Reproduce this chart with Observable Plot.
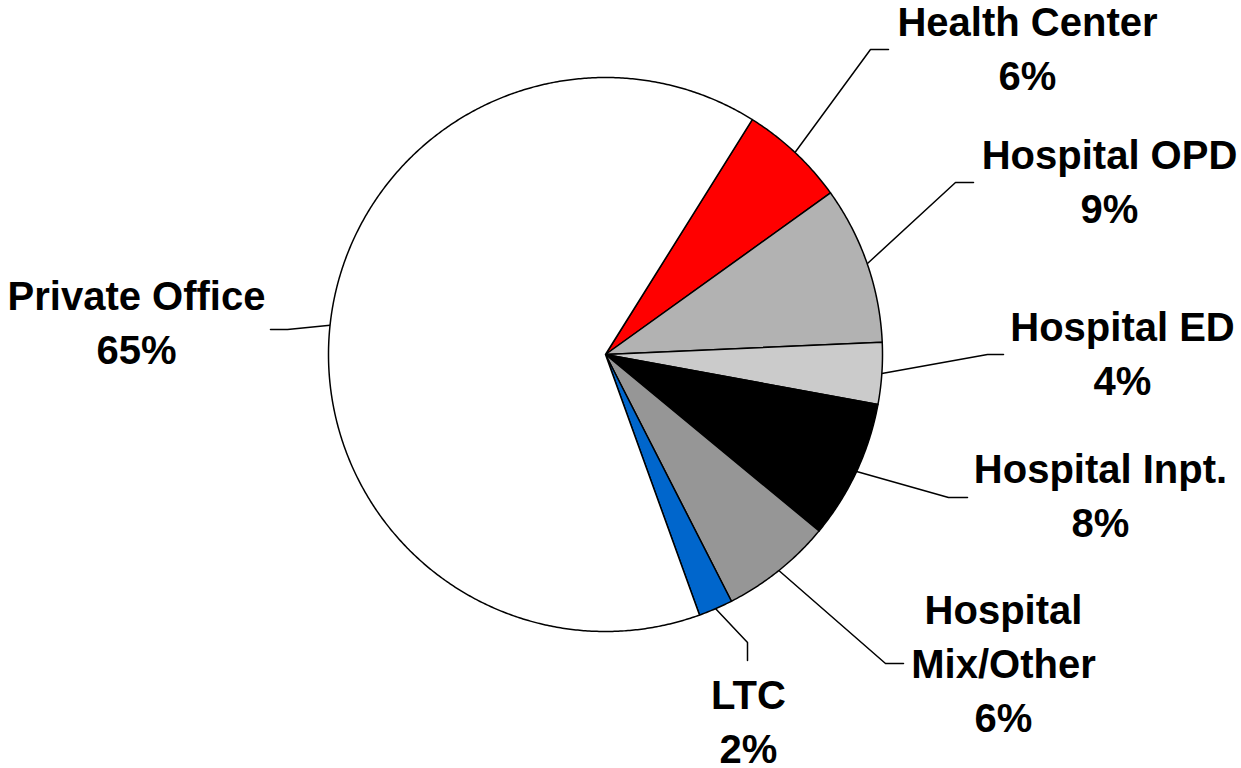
<!DOCTYPE html>
<html><head><meta charset="utf-8">
<script src="https://cdn.jsdelivr.net/npm/d3@7"></script>
<script src="https://cdn.jsdelivr.net/npm/@observablehq/plot@0.6"></script>
<style>html,body{margin:0;padding:0;background:#fff;} #chart svg{display:block}</style>
</head><body><div id="chart"></div>
<script>
// ---- data ----
const categories = ["Health Center", "Hospital OPD", "Hospital ED", "Hospital Inpt.", "Hospital Mix/Other", "LTC", "Private Office"];
const values = [6.2, 9.2, 3.6, 8.1, 6.5, 2.0, 64.4];
const percentLabels = ["6%", "9%", "4%", "8%", "6%", "2%", "65%"];
const nameLines = [["Health Center"], ["Hospital OPD"], ["Hospital ED"], ["Hospital Inpt."], ["Hospital", "Mix/Other"], ["LTC"], ["Private Office"]];
const colors = ["#ff0000", "#b2b2b2", "#cbcbcb", "#000000", "#969696", "#0066cc", "#ffffff"];

// ---- layout ----
const W = 1241, H = 768, CX = 605, CY = 354, R = 277, START_DEG = 32;
const labelPos = [[1027, 89], [1109, 222], [1122, 394], [1100, 536], [1003, 731], [748, 762], [136, 363]]; // x centre, last baseline
const leaderBends = [
  [[870, 49], [888, 49]], [[955, 182], [973, 182]], [[987, 354], [1003, 354]],
  [[948, 497], [967, 497]], [[885, 663], [903, 663]], [[747, 642], [747, 660]], [[287, 329], [270, 329]]
];

const a0 = START_DEG * Math.PI / 180;
const arcs = d3.pie().sort(null).startAngle(a0).endAngle(a0 + 2 * Math.PI)(values);
const pt = (a, r = R) => ({x: CX + r * Math.sin(a), y: CY - r * Math.cos(a)});

const sliceMarks = arcs.map((s, i) => {
  const pts = [{x: CX, y: CY}];
  const n = Math.max(2, Math.ceil((s.endAngle - s.startAngle) / (0.4 * Math.PI / 180)));
  for (let k = 0; k <= n; k++) pts.push(pt(s.startAngle + (s.endAngle - s.startAngle) * k / n));
  pts.push({x: CX, y: CY});
  return Plot.line(pts, {x: "x", y: "y", fill: colors[i], stroke: "#000", strokeWidth: 1.5, strokeLinejoin: "round"});
});

const leaderMarks = arcs.map((s, i) => {
  const m = (s.startAngle + s.endAngle) / 2;
  const pts = [pt(m), {x: leaderBends[i][0][0], y: leaderBends[i][0][1]}, {x: leaderBends[i][1][0], y: leaderBends[i][1][1]}];
  return Plot.line(pts, {x: "x", y: "y", stroke: "#000", strokeWidth: 1.5});
});

const textData = categories.map((c, i) => ({
  x: labelPos[i][0], y: labelPos[i][1], text: [...nameLines[i], percentLabels[i]].join("\n")
}));

const chart = Plot.plot({
  width: W, height: H, margin: 0,
  x: {domain: [0, W], range: [0, W], axis: null},
  y: {domain: [0, H], range: [0, H], axis: null},
  style: {background: "#fff"},
  marks: [
    ...leaderMarks,
    ...sliceMarks,
    Plot.text(textData, {x: "x", y: "y", text: "text", fontSize: 40, fontWeight: "bold",
      fontFamily: "'Liberation Sans', Arial, sans-serif", fill: "#000",
      textAnchor: "middle", lineAnchor: "bottom", lineHeight: 1.35})
  ]
});
document.getElementById("chart").appendChild(chart);
</script>
</body></html>
